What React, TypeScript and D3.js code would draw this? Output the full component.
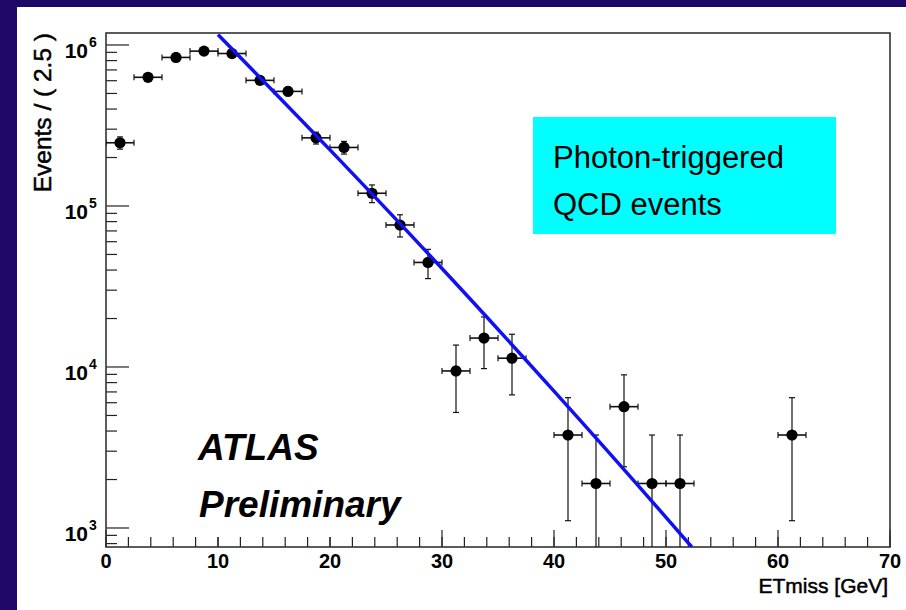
import React from "react";
import * as d3 from "d3";

// ---- data ----
const binCenters = [1.25, 3.75, 6.25, 8.75, 11.25, 13.75, 16.25, 18.75, 21.25, 23.75, 26.25, 28.75, 31.25, 33.75, 36.25, 41.25, 43.75, 46.25, 48.75, 51.25, 61.25];
const events = [247000, 630000, 837000, 916000, 885000, 603000, 515000, 265000, 231000, 120000, 76200, 44600, 9450, 15120, 11340, 3780, 1890, 5670, 1890, 1890, 3780];
const eventErrors = [21600, 34500, 39800, 41600, 40900, 33800, 31200, 22400, 20900, 15100, 12000, 9200, 4230, 5350, 4630, 2670, 1890, 3270, 1890, 1890, 2670];
const binWidth = 2.5;

const fitX = [10, 20, 30, 40, 50, 52.3];
const fitY = [1160000, 223000, 40900, 7080, 1164, 762];

const xMajorTicks = [0, 10, 20, 30, 40, 50, 60, 70];
const xMinorTicks = d3.range(0, 71, 2);
const yExponents = [3, 4, 5, 6];

const xDomain = [0, 70];
const yDomain = [762, 1187000];

const xTitle = "ETmiss [GeV]";
const yTitle = "Events / ( 2.5 )";
const boxLines = ["Photon-triggered", "QCD events"];
const atlasLines = ["ATLAS", "Preliminary"];

const W = 906;
const H = 610;
const plot = { left: 106, right: 890, top: 33, bottom: 547 };
const FONT = "'Liberation Sans', Arial, Helvetica, sans-serif";

export default function App() {
  const x = d3.scaleLinear().domain(xDomain).range([plot.left, plot.right]);
  const y = d3.scaleLog().domain(yDomain).range([plot.bottom, plot.top]);

  const yMinor: number[] = [];
  for (let e = 2; e <= 6; e++) {
    for (let m = 2; m <= 9; m++) {
      const v = m * Math.pow(10, e);
      if (v >= yDomain[0] && v <= yDomain[1]) yMinor.push(v);
    }
  }

  const fitLine = d3
    .line<number>()
    .x((_, i) => x(fitX[i]))
    .y((d) => y(d))
    .curve(d3.curveMonotoneX)(fitY) as string;

  const capW = 3;
  const r = 5.6;

  return (
    <svg
      width={W}
      height={H}
      style={{ position: "absolute", left: 0, top: 0, display: "block" }}
      fontFamily={FONT}
    >
      <defs>
        <clipPath id="plotClip">
          <rect x={plot.left} y={plot.top} width={plot.right - plot.left} height={plot.bottom - plot.top} />
        </clipPath>
      </defs>
      <rect x={0} y={0} width={W} height={H} fill="#1e0766" />
      <rect x={17} y={7} width={W - 17} height={H - 7} fill="#ffffff" />

      {/* x ticks */}
      {xMinorTicks.map((t) => (
        <line key={"xm" + t} x1={x(t)} x2={x(t)} y1={plot.bottom} y2={plot.bottom - 10} stroke="#222" strokeWidth={1.2} />
      ))}
      {xMajorTicks.map((t) => (
        <line key={"xM" + t} x1={x(t)} x2={x(t)} y1={plot.bottom} y2={plot.bottom - 17} stroke="#222" strokeWidth={1.2} />
      ))}
      {/* y ticks */}
      {yMinor.map((v) => (
        <line key={"ym" + v} x1={plot.left} x2={plot.left + 11} y1={y(v)} y2={y(v)} stroke="#222" strokeWidth={1.2} />
      ))}
      {yExponents.map((e) => (
        <line key={"yM" + e} x1={plot.left} x2={plot.left + 23} y1={y(Math.pow(10, e))} y2={y(Math.pow(10, e))} stroke="#222" strokeWidth={1.2} />
      ))}

      {/* ATLAS label with white backing (covers tick tops as in original) */}
      <rect x={190} y={420} width={240} height={plot.bottom - 10 - 420} fill="#ffffff" />
      <text x={198} y={460} fontSize={37} fontWeight="bold" fontStyle="italic" fill="#000">
        {atlasLines[0]}
      </text>
      <text x={199} y={516.7} fontSize={37} fontWeight="bold" fontStyle="italic" fill="#000">
        {atlasLines[1]}
      </text>

      {/* frame */}
      <rect
        x={plot.left}
        y={plot.top}
        width={plot.right - plot.left}
        height={plot.bottom - plot.top}
        fill="none"
        stroke="#333"
        strokeWidth={1.6}
      />

      {/* cyan box */}
      <rect x={533} y={117} width={303} height={117} fill="#00ffff" />
      <text x={553} y={168} fontSize={31} fill="#000">
        {boxLines[0]}
      </text>
      <text x={553} y={215} fontSize={31} fill="#000">
        {boxLines[1]}
      </text>

      {/* data */}
      <g clipPath="url(#plotClip)">
        {binCenters.map((c, i) => {
          const v = events[i];
          const err = eventErrors[i];
          const cx = x(c);
          const cy = y(v);
          const hiY = y(v + err);
          const lowVal = v - err;
          const loY = lowVal > yDomain[0] ? y(lowVal) : plot.bottom;
          const x0 = x(c - binWidth / 2);
          const x1 = x(c + binWidth / 2);
          return (
            <g key={"p" + i} stroke="#111" strokeWidth={1.2}>
              <line x1={cx} x2={cx} y1={hiY} y2={loY} />
              <line x1={cx - capW} x2={cx + capW} y1={hiY} y2={hiY} />
              {lowVal > yDomain[0] && <line x1={cx - capW} x2={cx + capW} y1={loY} y2={loY} />}
              <line x1={x0} x2={x1} y1={cy} y2={cy} strokeWidth={1.6} />
              <line x1={x0} x2={x0} y1={cy - capW} y2={cy + capW} />
              <line x1={x1} x2={x1} y1={cy - capW} y2={cy + capW} />
              <circle cx={cx} cy={cy} r={r} fill="#000" stroke="none" />
            </g>
          );
        })}
        <path d={fitLine} fill="none" stroke="#1010f5" strokeWidth={3.5} />
      </g>

      {/* x tick labels */}
      {xMajorTicks.map((t) => (
        <text key={"xl" + t} x={x(t)} y={568} fontSize={20} fontWeight="bold" textAnchor="middle" fill="#000">
          {t}
        </text>
      ))}
      {/* y tick labels */}
      {yExponents.map((e) => {
        const ty = y(Math.pow(10, e));
        return (
          <g key={"yl" + e}>
            <text x={88} y={ty + 13} fontSize={21} fontWeight="bold" textAnchor="end" fill="#000">
              10
            </text>
            <text x={89} y={ty + 2} fontSize={14} fontWeight="bold" textAnchor="start" fill="#000">
              {e}
            </text>
          </g>
        );
      })}

      {/* axis titles */}
      <text x={888} y={593} fontSize={21} textAnchor="end" fill="#000" stroke="#000" strokeWidth={0.5}>
        {xTitle}
      </text>
      <text
        transform={`translate(51, ${plot.top}) rotate(-90)`}
        fontSize={24.5}
        textAnchor="end"
        fill="#000"
        stroke="#000"
        strokeWidth={0.5}
      >
        {yTitle}
      </text>
    </svg>
  );
}
